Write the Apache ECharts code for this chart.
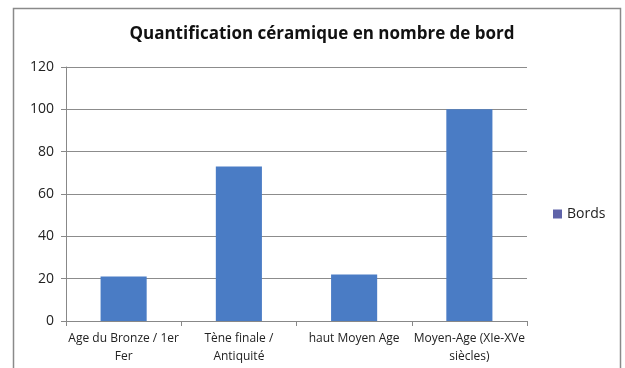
<!DOCTYPE html>
<html>
<head>
<meta charset="utf-8">
<script src="https://cdn.jsdelivr.net/npm/echarts@6/dist/echarts.min.js"></script>
<style>
  html, body { margin: 0; padding: 0; background: #fff; }
  #chart { width: 625px; height: 368px; }
</style>
</head>
<body>
<div id="chart"></div>
<script>
const categories = [
  'Age du Bronze / 1er\nFer',
  'Tène finale /\nAntiquité',
  'haut Moyen Age',
  'Moyen-Age (XIe-XVe\nsiècles)'
];
const bords = [21, 73, 22, 100];
const seriesName = 'Bords';
const titleText = 'Quantification céramique en nombre de bord';

const FONT = 'Open Sans';
const chart = echarts.init(document.getElementById('chart'));
chart.setOption({
  backgroundColor: '#ffffff',
  animation: false,
  graphic: [{
    type: 'rect',
    shape: { x: 13.5, y: 8.5, width: 607, height: 370 },
    style: { fill: 'none', stroke: '#8a8a8a', lineWidth: 1.5 },
    silent: true
  }],
  title: {
    text: titleText,
    left: 317,
    textAlign: 'center',
    top: 21,
    textStyle: { fontFamily: FONT, fontSize: 17, fontWeight: 'bold', color: '#111' }
  },
  legend: {
    data: [{ name: seriesName, itemStyle: { color: '#5f63a9' } }],
    left: 548,
    top: 202,
    itemWidth: 9,
    itemHeight: 9,
    itemGap: 5,
    icon: 'rect',
    textStyle: { fontFamily: FONT, fontSize: 14, color: '#222' }
  },
  grid: { left: 66, right: 98, top: 67, bottom: 47 },
  xAxis: {
    type: 'category',
    data: categories,
    axisLine: { lineStyle: { color: '#888', width: 1 } },
    axisTick: { show: true, length: 5, lineStyle: { color: '#888' } },
    axisLabel: {
      interval: 0,
      fontFamily: FONT,
      fontSize: 12,
      color: '#222',
      lineHeight: 18,
      margin: 9
    }
  },
  yAxis: {
    type: 'value',
    min: 0,
    max: 120,
    interval: 20,
    axisLine: { show: true, lineStyle: { color: '#888' } },
    axisTick: { show: true, length: 5, lineStyle: { color: '#888' } },
    splitLine: { lineStyle: { color: '#8c8c8c', width: 1 } },
    axisLabel: { fontFamily: FONT, fontSize: 14, color: '#222', margin: 12 }
  },
  series: [{
    name: seriesName,
    type: 'bar',
    data: bords,
    barWidth: '40%',
    itemStyle: { color: '#4a7cc5' }
  }]
});
</script>
</body>
</html>
